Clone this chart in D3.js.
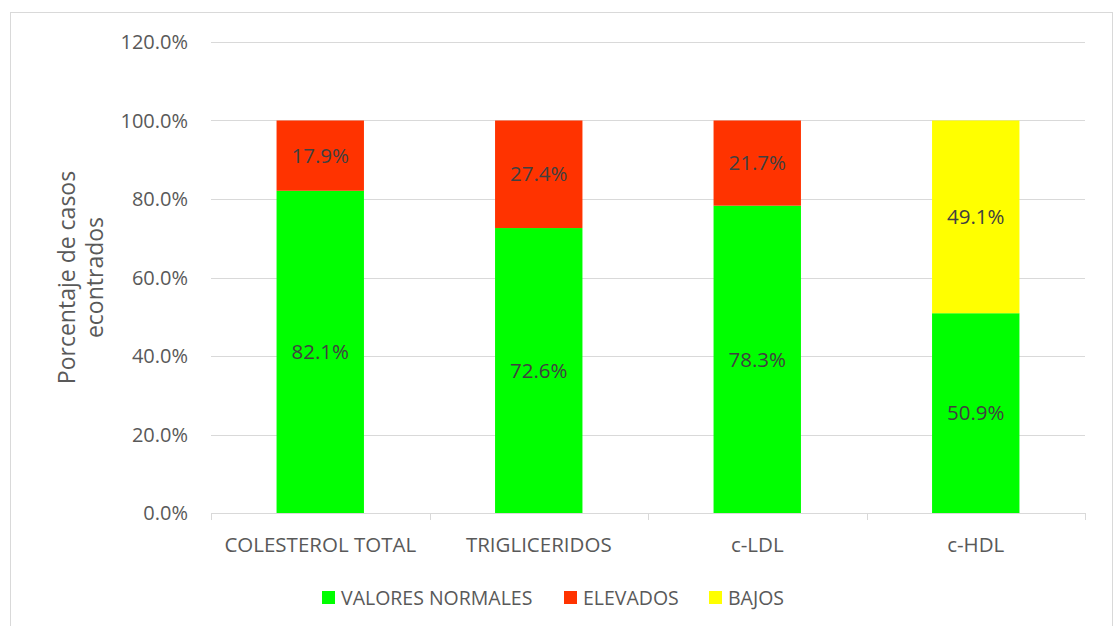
<!DOCTYPE html>
<html>
<head>
<meta charset="utf-8">
<script src="https://cdn.jsdelivr.net/npm/d3@7"></script>
<style>
  body { margin: 0; background: #fff; }
  svg { font-family: "Open Sans", "Liberation Sans", sans-serif; }
</style>
</head>
<body>
<div id="vis"></div>
<script>
// data
const categories = ['COLESTEROL TOTAL', 'TRIGLICERIDOS', 'c-LDL', 'c-HDL'];
const seriesNames = ['VALORES NORMALES', 'ELEVADOS', 'BAJOS'];
const normales = [82.1, 72.6, 78.3, 50.9];
const elevados = [17.9, 27.4, 21.7, 0];
const bajos = [0, 0, 0, 49.1];
const yTicks = [0, 20, 40, 60, 80, 100, 120];
const colors = ['#00ff00', '#ff3300', '#ffff00'];

const W = 1115, H = 626;
const margin = {top: 42, right: 30, bottom: 113, left: 211};
const width = 1085 - margin.left;
const height = 513 - margin.top;
const textColor = '#595959';

const svg = d3.select('#vis').append('svg')
    .attr('width', W).attr('height', H);

// chart border
svg.append('rect')
    .attr('x', 10.5).attr('y', 12.5)
    .attr('width', 1102).attr('height', 630)
    .attr('fill', 'none').attr('stroke', '#d9d9d9');

const g = svg.append('g')
    .attr('transform', `translate(${margin.left},${margin.top})`);

const xScale = d3.scaleBand().domain(categories).range([0, width]).paddingInner(0.6).paddingOuter(0.3);
const yScale = d3.scaleLinear().domain([0, 120]).range([height, 0]);

// gridlines
g.selectAll('.grid')
    .data(yTicks.filter(d => d > 0))
    .join('line')
    .attr('class', 'grid')
    .attr('x1', 0).attr('x2', width)
    .attr('y1', d => Math.round(yScale(d)) + 0.5)
    .attr('y2', d => Math.round(yScale(d)) + 0.5)
    .attr('stroke', '#d9d9d9').attr('stroke-width', 1);

// y tick labels
g.selectAll('.ylab')
    .data(yTicks)
    .join('text')
    .attr('class', 'ylab')
    .attr('x', -23)
    .attr('y', d => yScale(d))
    .attr('dy', '0.35em')
    .attr('text-anchor', 'end')
    .attr('fill', textColor)
    .style('font-size', '20px')
    .text(d => d.toFixed(1) + '%');

// stacked bars
const table = categories.map((c, i) => ({cat: c, s0: normales[i], s1: elevados[i], s2: bajos[i]}));
const stack = d3.stack().keys(['s0', 's1', 's2'])(table);

stack.forEach((layer, li) => {
    g.selectAll('.bar' + li)
        .data(layer.filter(d => d[1] - d[0] > 0))
        .join('rect')
        .attr('class', 'bar' + li)
        .attr('x', d => xScale(d.data.cat))
        .attr('width', xScale.bandwidth())
        .attr('y', d => yScale(d[1]))
        .attr('height', d => yScale(d[0]) - yScale(d[1]))
        .attr('fill', colors[li]);

    g.selectAll('.val' + li)
        .data(layer.filter(d => d[1] - d[0] > 0))
        .join('text')
        .attr('class', 'val' + li)
        .attr('x', d => xScale(d.data.cat) + xScale.bandwidth() / 2)
        .attr('y', d => yScale((d[0] + d[1]) / 2))
        .attr('dy', '0.35em')
        .attr('text-anchor', 'middle')
        .attr('fill', '#404040')
        .style('font-size', '20.5px')
        .text(d => (d[1] - d[0]).toFixed(1) + '%');
});

// x axis line + ticks
g.append('line')
    .attr('x1', 0).attr('x2', width)
    .attr('y1', height + 0.5).attr('y2', height + 0.5)
    .attr('stroke', '#d9d9d9');
const bounds = d3.range(categories.length + 1).map(i => i * width / categories.length);
g.selectAll('.xtick')
    .data(bounds)
    .join('line')
    .attr('class', 'xtick')
    .attr('x1', d => Math.round(d) + 0.5).attr('x2', d => Math.round(d) + 0.5)
    .attr('y1', height).attr('y2', height + 7)
    .attr('stroke', '#d9d9d9');

// x labels
g.selectAll('.xlab')
    .data(categories)
    .join('text')
    .attr('class', 'xlab')
    .attr('x', d => xScale(d) + xScale.bandwidth() / 2)
    .attr('y', height + 32)
    .attr('dy', '0.35em')
    .attr('text-anchor', 'middle')
    .attr('fill', textColor)
    .style('font-size', '20.5px')
    .text(d => d);

// y axis title
const yt = svg.append('text')
    .attr('transform', `translate(82,${margin.top + height / 2}) rotate(-90)`)
    .attr('text-anchor', 'middle')
    .attr('fill', textColor)
    .style('font-size', '23px');
yt.append('tspan').attr('x', 0).attr('dy', '-0.3em').text('Porcentaje de casos');
yt.append('tspan').attr('x', 0).attr('dy', '1.2em').text('econtrados');

// legend
const legendX = [322, 564, 709];
const leg = svg.append('g').attr('transform', 'translate(0,598)');
seriesNames.forEach((s, i) => {
    leg.append('rect')
        .attr('x', legendX[i]).attr('y', -7)
        .attr('width', 13).attr('height', 13)
        .attr('fill', colors[i]);
    leg.append('text')
        .attr('x', legendX[i] + 19).attr('y', 0)
        .attr('dy', '0.35em')
        .attr('fill', textColor)
        .style('font-size', '19.5px')
        .text(s);
});
</script>
</body>
</html>
